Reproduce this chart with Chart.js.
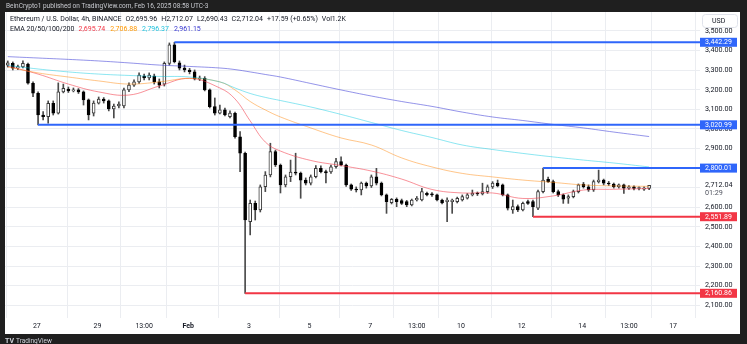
<!DOCTYPE html>
<html>
<head>
<meta charset="utf-8">
<script src="https://cdn.jsdelivr.net/npm/chart.js@4.4.1/dist/chart.umd.min.js"></script>
<style>
  html, body { margin: 0; padding: 0; background: #1f1f1f; }
  #wrap { width: 747px; height: 344px; }
</style>
</head>
<body>
<div id="wrap"><canvas id="ethChart" width="747" height="344"></canvas></div>
<script>
// ETH/USD 4h candles, Jan 26 01:00 -> Feb 16 05:00 (UTC-3)
const firstCandleHour = 1;   // hours after Jan 26 00:00
const candleStep = 4;

const opens = [3326,3335,3311,3316,3331,3233,3182,3071,3063,3131,3081,3189,3204,3194,3199,3189,3148,3081,3132,3153,
  3143,3102,3117,3117,3199,3224,3240,3270,3260,3270,3240,3229,3335,3429,3337,3311,3301,3292,3255,3258,
  3199,3114,3080,3097,3063,3080,2960,2876,2526,2620,2586,2705,2765,2884,2816,2714,2756,2780,2774,2739,
  2723,2756,2799,2782,2780,2807,2833,2816,2714,2693,2688,2723,2709,2756,2723,2663,2624,2641,2634,2629,
  2612,2637,2637,2671,2668,2663,2637,2629,2629,2629,2637,2646,2663,2673,2668,2680,2704,2723,2714,2663,
  2586,2603,2586,2629,2629,2595,2680,2743,2731,2680,2663,2646,2654,2680,2719,2705,2688,2731,2739,2723,
  2719,2705,2714,2697,2704,2696,2693,2695.96];
const highs = [3347,3342,3326,3347,3336,3240,3189,3088,3143,3143,3235,3229,3214,3209,3206,3194,3153,3143,3163,3160,
  3148,3127,3138,3209,3235,3250,3286,3280,3286,3280,3255,3342,3439,3442.29,3347,3326,3309,3301,3270,3267,
  3204,3158,3122,3107,3092,3086,2986,2882,2637,2632,2714,2782,2927,2892,2821,2765,2841,2876,2780,2750,
  2765,2813,2811,2790,2816,2850,2858,2821,2719,2704,2729,2729,2765,2799,2729,2668,2645,2648,2642,2635,
  2642,2655,2697,2678,2675,2668,2642,2648,2642,2652,2663,2670,2688,2678,2723,2714,2731,2739,2719,2668,
  2637,2612,2627,2637,2637,2688,2800.01,2754,2739,2688,2668,2663,2688,2719,2727,2714,2739,2790,2744,2732,
  2724,2719,2719,2711,2709,2704,2704,2712.07];
const lows = [3316,3301,3303,3311,3229,3165,3020.99,3046,3029,3071,3076,3184,3186,3189,3181,3122,3046,3066,3127,3132,
  3092,3056,3107,3107,3190,3217,3232,3250,3250,3229,3209,3219,3326,3337,3301,3291,3281,3250,3247,3194,
  3107,3071,3076,3066,3056,2953,2782,2160.86,2459,2535,2576,2680,2755,2808,2673,2704,2731,2765,2646,2714,
  2714,2750,2775,2724,2773,2800,2811,2706,2686,2678,2663,2698,2701,2714,2658,2569,2617,2603,2614,2603,
  2607,2632,2632,2658,2655,2632,2617,2526,2569,2622,2632,2642,2658,2660,2663,2671,2696,2704,2658,2586,
  2569,2578,2581,2614,2551.89,2588,2673,2727,2673,2655,2620,2620,2648,2673,2698,2681,2681,2724,2714,2711,
  2698,2698,2671,2691,2688,2688,2686,2690.43];
const closes = [3337,3310,3318,3335,3233,3182,3071,3063,3131,3081,3189,3207,3194,3199,3189,3148,3071,3132,3153,3143,
  3102,3117,3127,3199,3224,3240,3275,3260,3275,3240,3224,3335,3429,3343,3310,3301,3292,3255,3260,3199,
  3114,3080,3097,3071,3081,2960,2876,2535,2620,2586,2705,2765,2884,2816,2714,2756,2780,2774,2739,2723,
  2756,2799,2782,2775,2807,2833,2816,2714,2693,2688,2723,2709,2756,2723,2663,2629,2641,2629,2620,2612,
  2637,2646,2680,2663,2663,2637,2622,2637,2637,2646,2654,2663,2671,2668,2680,2704,2723,2709,2663,2595,
  2603,2586,2620,2620,2603,2680,2739,2731,2680,2663,2641,2654,2680,2714,2705,2688,2731,2739,2723,2719,
  2705,2714,2697,2705,2696,2698,2696,2712.04];

// EMA readings at sample hours
const emaHours = [1,25,49,73,97,121,145,169,181,193,205,217,241,265,289,313,337,361,385,409,433,457,481,509];
const ema20  = [3321,3280,3229,3189,3173,3219,3258,3209,3153,3041,2933,2887,2839,2813,2785,2744,2691,2673,2673,2645,2658,2688,2692,2695.74];
const ema50  = [3316,3286,3265,3245,3229,3240,3258,3240,3199,3140,3097,3061,3005,2954,2918,2852,2806,2773,2755,2739,2727,2714,2709,2706.88];
const ema100 = [3324,3306,3291,3280,3273,3268,3265,3240,3209,3181,3161,3145,3112,3074,3033,2992,2956,2918,2895,2875,2857,2841,2826,2806];
const ema200 = [3369,3362,3355,3347,3337,3326,3319,3311,3303,3291,3278,3265,3232,3199,3168,3140,3115,3086,3061,3043,3023,3005,2984,2961.15];

// horizontal levels and the candle each one starts from
const levelValues = [3442.29, 3020.99, 2800.01, 2551.89, 2160.86];
const levelStartCandle = [33, 6, 106, 104, 47];
const levelKind = ['res', 'res', 'res', 'sup', 'sup'];

const priceTicks = [2100,2200,2300,2400,2500,2600,2700,2800,2900,3000,3100,3200,3300,3400,3500];
const dateTickHours = [24, 72, 109, 144, 192, 240, 288, 325, 360, 408, 456, 493, 528];
const dateTickLabels = ['27','29','13:00','Feb','3','5','7','13:00','10','12','14','13:00','17'];

const xMin = -1.2, xMax = 549.3;
const yMin = 2034.8, yMax = 3596.9;

const FONT = 'Roboto';
const TEXT = '#131722';
const BLUE = '#2f66fa';
const RED = '#f23645';
const GRID = '#ebedf1';

function candleHour(i) { return firstCandleHour + i * candleStep; }
function fmt(v) { return v.toLocaleString('en-US', { minimumFractionDigits: 2, maximumFractionDigits: 2 }); }
function isUp(i) { return closes[i] >= opens[i]; }

const wickData = opens.map((o, i) => ({ x: candleHour(i), y: [lows[i], highs[i]] }));
const bodyData = opens.map((o, i) => ({ x: candleHour(i), y: [opens[i], closes[i]] }));
const emaPts = arr => arr.map((v, i) => ({ x: emaHours[i], y: v }));

const datasets = [
  { type: 'bar', data: wickData, backgroundColor: '#4a4a4a', barThickness: 1, grouped: false, order: 5 },
  { type: 'bar', data: bodyData, grouped: false, order: 4, barThickness: 3, minBarLength: 1,
    backgroundColor: ctx => isUp(ctx.dataIndex) ? '#ffffff' : '#000000',
    borderColor: ctx => isUp(ctx.dataIndex) ? '#3a3a3a' : '#000000',
    borderWidth: 1, borderSkipped: false },
  { type: 'line', data: emaPts(ema200), borderColor: 'rgba(60,60,215,0.55)', borderWidth: 1, pointRadius: 0, tension: 0.4, order: 3 },
  { type: 'line', data: emaPts(ema100), borderColor: 'rgba(0,200,225,0.45)', borderWidth: 1, pointRadius: 0, tension: 0.4, order: 3 },
  { type: 'line', data: emaPts(ema50), borderColor: 'rgba(255,140,20,0.5)', borderWidth: 1, pointRadius: 0, tension: 0.4, order: 3 },
  { type: 'line', data: emaPts(ema20), borderColor: 'rgba(242,54,69,0.55)', borderWidth: 1, pointRadius: 0, tension: 0.4, order: 3 }
];
levelValues.forEach((v, i) => {
  datasets.push({
    type: 'line',
    data: [{ x: candleHour(levelStartCandle[i]), y: v }, { x: xMax, y: v }],
    borderColor: levelKind[i] === 'res' ? BLUE : RED,
    borderWidth: 2, pointRadius: 0, order: 1
  });
});

function txt(c, s, x, y, color, size, weight) {
  c.font = (weight || 'normal') + ' ' + size + 'px ' + FONT;
  c.fillStyle = color;
  c.fillText(s, x, y);
  return x + c.measureText(s).width;
}

const framePlugin = {
  id: 'frame',
  beforeDraw(chart) {
    const c = chart.ctx;
    c.save();
    c.fillStyle = '#1f1f1f';
    c.fillRect(0, 0, 747, 344);
    c.fillStyle = '#ffffff';
    c.fillRect(5, 12, 735, 322);
    c.restore();
  },
  afterDraw(chart) {
    const c = chart.ctx;
    const ys = chart.scales.y;
    c.save();
    c.textBaseline = 'middle';

    // publisher line on the dark bar
    txt(c, 'BeinCrypto1 published on TradingView.com, Feb 16, 2025 08:58 UTC-3', 6, 6, '#c8cad0', 6.5);

    // symbol line
    let x = txt(c, 'Ethereum / U.S. Dollar, 4h, BINANCE', 10, 19.5, TEXT, 7) + 4;
    [['O', '2,695.96'], ['H', '2,712.07'], ['L', '2,690.43'], ['C', '2,712.04']].forEach(p => {
      x = txt(c, p[0], x, 19.5, TEXT, 7);
      x = txt(c, p[1], x, 19.5, TEXT, 7) + 4;
    });
    x = txt(c, '+17.59 (+0.65%)', x, 19.5, TEXT, 7) + 4;
    x = txt(c, 'Vol', x, 19.5, TEXT, 7);
    txt(c, '1.2K', x, 19.5, TEXT, 7);

    // EMA line
    x = txt(c, 'EMA 20/50/100/200', 10, 29.5, TEXT, 7) + 4;
    [['2,695.74', RED], ['2,706.88', '#ff9800'], ['2,796.37', '#22c3dd'], ['2,961.15', '#3535d0']].forEach(p => {
      x = txt(c, p[0], x, 29.5, p[1], 7) + 5;
    });

    // USD box
    c.fillStyle = '#ffffff';
    c.strokeStyle = '#e0e3eb';
    c.lineWidth = 1;
    c.beginPath();
    c.roundRect(702.5, 14.5, 35, 13, 3);
    c.fill();
    c.stroke();
    txt(c, 'USD', 712, 21.5, TEXT, 7);

    // level price tags
    c.textAlign = 'center';
    levelValues.forEach((v, i) => {
      const py = ys.getPixelForValue(v);
      c.fillStyle = levelKind[i] === 'res' ? BLUE : RED;
      c.fillRect(700, py - 4.5, 37, 9);
      txt(c, fmt(v), 718.5, py + 0.3, '#ffffff', 7);
    });

    // last price tag
    c.textAlign = 'left';
    const lp = ys.getPixelForValue(closes[closes.length - 1]);
    c.fillStyle = '#ffffff';
    c.fillRect(700, lp - 5, 38, 17);
    txt(c, fmt(closes[closes.length - 1]), 705, lp - 0.5, TEXT, 7.2);
    txt(c, '01:29', 705, lp + 7.5, '#50535e', 7.2);

    // footer logo
    txt(c, 'TV', 5, 341, '#d1d4dc', 7, 'bold');
    txt(c, 'TradingView', 16, 341, '#d1d4dc', 6.5);
    c.restore();
  }
};

new Chart(document.getElementById('ethChart'), {
  type: 'bar',
  data: { datasets: datasets },
  options: {
    responsive: false,
    devicePixelRatio: 1,
    animation: false,
    layout: { padding: { left: 5, top: 12, right: 7, bottom: 10 } },
    plugins: { legend: { display: false }, tooltip: { enabled: false } },
    scales: {
      x: {
        type: 'linear',
        min: xMin,
        max: xMax,
        offset: false,
        afterBuildTicks: ax => { ax.ticks = dateTickHours.map(v => ({ value: v })); },
        afterFit: ax => { ax.height = 16; },
        ticks: {
          autoSkip: false,
          maxRotation: 0,
          padding: 4,
          color: TEXT,
          font: ctx => ({ family: FONT, size: 7, weight: dateTickLabels[ctx.index] === 'Feb' ? 'bold' : 'normal' }),
          callback: (v, i) => dateTickLabels[i]
        },
        grid: { color: GRID, drawTicks: false },
        border: { display: false }
      },
      y: {
        position: 'right',
        min: yMin,
        max: yMax,
        afterBuildTicks: ax => { ax.ticks = priceTicks.map(v => ({ value: v })); },
        afterFit: ax => { ax.width = 40; },
        ticks: {
          padding: 5,
          color: TEXT,
          font: { family: FONT, size: 7.2 },
          callback: v => fmt(v)
        },
        grid: { color: GRID, drawTicks: false },
        border: { display: false }
      }
    }
  },
  plugins: [framePlugin]
});
</script>
</body>
</html>
